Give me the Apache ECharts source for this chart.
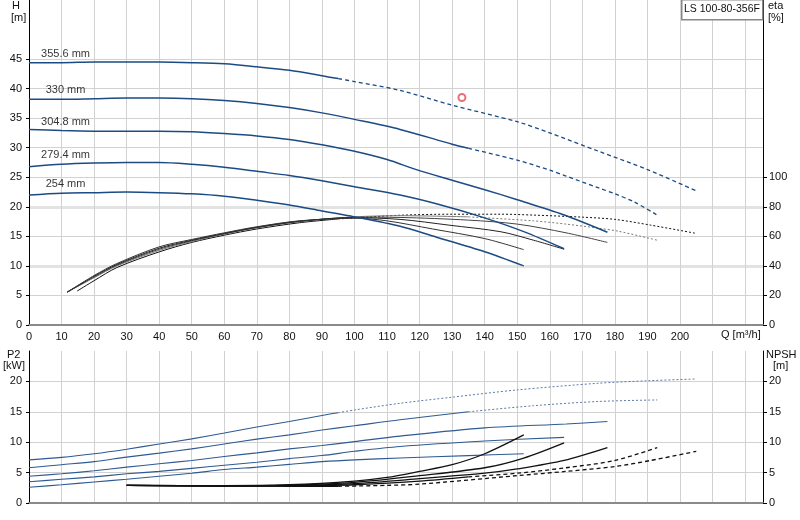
<!DOCTYPE html>
<html>
<head>
<meta charset="utf-8">
<title>LS 100-80-356F</title>
<script src="https://cdn.jsdelivr.net/npm/echarts@6/dist/echarts.min.js"></script>
<style>
  html, body { margin: 0; padding: 0; background: #fff; }
  #main { width: 800px; height: 520px; }
</style>
</head>
<body>
<div id="main"></div>
<script>
// impeller diameters, biggest first
var diameters = ['355.6 mm', '330 mm', '304.8 mm', '279.4 mm', '254 mm'];

// H [m] against Q [m3/h]
var h356 = [[0,44.4],[10,44.4],[20,44.5],[30,44.5],[40,44.5],[50,44.4],[60,44.2],[70,43.7],[80,43.1],[90,42.2],[95,41.7],[100,41.2],[114,39.7],[130,37.2],[150,34.4],[160,32.5],[175,29.4],[190,26.3],[205,22.7]];
var h330 = [[0,38.2],[10,38.2],[20,38.3],[30,38.4],[40,38.4],[50,38.3],[60,38.0],[70,37.5],[80,36.8],[90,35.9],[100,34.8],[114,33.1],[130,30.6],[135,29.9],[150,27.9],[160,26.2],[165,25.2],[175,23.2],[180,22.2],[186,20.8],[193,18.6]];
var h305 = [[0,33.1],[10,32.9],[20,32.8],[30,32.8],[40,32.8],[50,32.7],[60,32.4],[70,32.0],[80,31.4],[90,30.5],[100,29.4],[110,28.0],[119,26.3],[130,24.5],[140,22.9],[150,21.2],[164,18.7],[177.7,15.7]];
var h279 = [[0,26.8],[10,27.2],[20,27.4],[30,27.5],[40,27.5],[50,27.2],[60,26.7],[70,26.0],[80,25.3],[90,24.4],[100,23.4],[114,22.0],[126,20.4],[139,18.3],[152,15.8],[164.4,12.9]];
var h254 = [[0,22.0],[10,22.3],[20,22.4],[30,22.5],[40,22.4],[50,22.2],[60,21.8],[70,21.1],[80,20.3],[90,19.3],[100,18.3],[114,16.7],[125,14.9],[140,12.4],[152,10.0]];

// eta [%]
var e356 = [[14.8,23],[20,30],[27,38.9],[40,49.5],[50,55.9],[60,60.8],[70,65],[83,69.2],[95,71.8],[100,72.5],[114,74.3],[130,75],[145,75],[155,74.4],[170,73],[180,71.5],[191,67.6],[205,62]];
var e330 = [[11.7,22.2],[20,32],[27,40],[40,50.5],[50,56.5],[60,61.5],[70,65.7],[83,70],[100,73.2],[114,74],[135,73.2],[155,70.5],[165,68.3],[175,65.5],[181,63.5],[193,57.4]];
var e305 = [[11.7,22.2],[20,32.5],[27,40.5],[40,51.3],[50,57],[60,61.8],[70,66],[83,70],[100,73],[114,72.8],[135,71],[150,68.3],[165,62.4],[177.7,55.9]];
var e279 = [[11.7,22.2],[20,33],[27,41],[40,52],[50,57.4],[60,62],[70,66.2],[83,70.3],[100,72.6],[114,71.5],[129,67.6],[145,63.1],[155,57.4],[164.4,51.3]];
var e254 = [[11.7,22.2],[20,33.5],[27,41.6],[40,52.9],[50,57.9],[60,62.4],[70,66.5],[83,70.5],[100,72.3],[110,70.5],[124,65],[140,58.5],[152,51]];

// P2 [kW]
var p356 = [[0,7.1],[10,7.5],[20,8.1],[30,8.85],[40,9.7],[50,10.55],[60,11.5],[70,12.5],[80,13.4],[90,14.4],[95,14.85],[100,15.3],[114,16.4],[130,17.4],[150,18.6],[175,19.7],[190,20.1],[205,20.4]];
var p330 = [[0,5.8],[10,6.3],[20,6.8],[30,7.55],[40,8.2],[50,8.9],[60,9.7],[70,10.5],[80,11.2],[90,12.0],[100,12.7],[114,13.7],[135,15.0],[155,16.0],[175,16.7],[193,16.95]];
var p305 = [[0,4.4],[10,4.8],[20,5.3],[30,5.9],[40,6.45],[50,7.0],[60,7.65],[70,8.25],[80,8.9],[90,9.45],[100,10.1],[114,11.0],[140,12.35],[165,13.0],[177.7,13.4]];
var p279 = [[0,3.5],[10,3.9],[20,4.3],[30,4.8],[40,5.2],[50,5.7],[60,6.2],[70,6.7],[80,7.3],[90,7.8],[100,8.5],[114,9.3],[140,10.2],[164.4,10.8]];
var p254 = [[0,2.6],[10,3.0],[20,3.45],[30,3.9],[40,4.4],[50,4.9],[60,5.5],[70,5.9],[80,6.35],[90,6.8],[100,7.1],[114,7.4],[135,7.8],[152,8.1]];

// NPSH [m]
var n356 = [[30,2.9],[60,2.8],[80,2.75],[95,2.75],[110,2.9],[120,3.1],[150,4.5],[165,5.2],[180,6.0],[191,7.0],[205,8.5]];
var n330 = [[30,2.9],[60,2.8],[80,2.85],[100,3.0],[120,3.6],[135,4.3],[150,4.9],[165,5.8],[180,7.0],[193,9.1]];
var n305 = [[30,2.9],[60,2.8],[80,2.9],[100,3.2],[120,4.0],[140,4.9],[150,5.6],[164.4,7.0],[177.7,9.1]];
var n279 = [[30,2.9],[60,2.85],[80,2.95],[100,3.4],[120,4.5],[140,5.8],[152,7.4],[164.4,9.9]];
var n254 = [[30,2.9],[60,2.85],[80,3.0],[100,3.6],[110,4.2],[120,5.2],[130,6.3],[140,8.1],[152,11.2]];

// where solid lines turn dashed (per diameter)
var splitQ = [95, 135, null, null, null];

// duty point
var dutyPoint = [[133, 38.5]];

var hTicks = [0, 5, 10, 15, 20, 25, 30, 35, 40, 45];
var etaTicks = [0, 20, 40, 60, 80, 100];
var lowTicks = [0, 5, 10, 15, 20];
var qLabelMax = 200;

var FONT = 'Liberation Sans, Arial, sans-serif';
var myChart = echarts.init(document.getElementById('main'));

function lineSeries(data, xi, yi, style, z) {
    return {
        type: 'line', xAxisIndex: xi, yAxisIndex: yi, data: data,
        showSymbol: false, symbol: 'none', smooth: 0.3, silent: true,
        lineStyle: style, z: z || 2
    };
}

function withSplit(data, q, xi, yi, solid, dashed, z) {
    if (q == null) return [lineSeries(data, xi, yi, solid, z)];
    return [
        lineSeries(data.filter(function (p) { return p[0] <= q; }), xi, yi, solid, z),
        lineSeries(data.filter(function (p) { return p[0] >= q; }), xi, yi, dashed, z)
    ];
}

var hCurves = [h356, h330, h305, h279, h254];
var eCurves = [e356, e330, e305, e279, e254];
var pCurves = [p356, p330, p305, p279, p254];
var nCurves = [n356, n330, n305, n279, n254];
var etaColors = ['#111', '#7a7a7a', '#444', '#222', '#333'];

var series = [];
hCurves.forEach(function (d, i) {
    series = series.concat(withSplit(d, splitQ[i], 0, 0,
        { color: '#1c4b84', width: 1.5 },
        { color: '#1c4b84', width: 1.3, type: [4, 3] }, 4));
});
eCurves.forEach(function (d, i) {
    series = series.concat(withSplit(d, splitQ[i], 0, 1,
        { color: etaColors[i], width: 1 },
        { color: etaColors[i], width: 1, type: [2, 2] }, 3));
});
pCurves.forEach(function (d, i) {
    series = series.concat(withSplit(d, splitQ[i], 1, 2,
        { color: '#2f5a92', width: 1.1 },
        { color: '#5a7aa6', width: 1, type: [2, 2] }, 3));
});
nCurves.forEach(function (d, i) {
    series = series.concat(withSplit(d, splitQ[i], 1, 3,
        { color: '#111', width: 1.3 },
        { color: '#111', width: 1.3, type: [4, 3] }, 4));
});

// diameter labels, anchored at the Q=10 point of each H curve
series.push({
    type: 'scatter', xAxisIndex: 0, yAxisIndex: 0, silent: true,
    symbol: 'circle', symbolSize: 1, itemStyle: { color: 'transparent' },
    data: hCurves.map(function (d, i) { return { value: d[1], name: diameters[i] }; }),
    label: {
        show: true, position: 'top', distance: 3, offset: [4, 0],
        formatter: '{b}', color: '#000', fontSize: 11, fontFamily: FONT
    },
    z: 5
});

series.push({
    type: 'scatter', xAxisIndex: 0, yAxisIndex: 0, silent: true,
    symbol: 'emptyCircle', symbolSize: 7,
    itemStyle: { color: '#e34b55', borderColor: '#e34b55', borderWidth: 1 },
    data: dutyPoint, z: 6
});

var gridLine = { show: true, lineStyle: { color: '#d2d2d2', width: 1 } };
var lbl = { color: '#111', fontSize: 11, fontFamily: FONT };
var clear = 'rgba(0,0,0,0)';

var option = {
    animation: false,
    grid: [
        { left: 29, right: 37, top: 0, height: 325 },
        { left: 29, right: 37, top: 351, height: 152 }
    ],
    xAxis: [{
        type: 'value', gridIndex: 0, min: 0, max: 225.5, interval: 10,
        axisLine: { show: true, onZero: false, lineStyle: { color: '#8a8a8a', width: 2 } },
        axisTick: { show: false },
        axisLabel: Object.assign({ margin: 6, showMaxLabel: false,
            formatter: function (v) { return v <= qLabelMax ? String(v) : ''; } }, lbl),
        splitLine: gridLine
    }, {
        type: 'value', gridIndex: 1, min: 0, max: 225.5, interval: 10,
        axisLine: { show: true, onZero: false, lineStyle: { color: '#8a8a8a', width: 2 } },
        axisTick: { show: false },
        axisLabel: { show: false },
        splitLine: gridLine
    }],
    yAxis: [{
        type: 'value', gridIndex: 0, min: 0, max: 55, interval: 5, position: 'left',
        axisLine: { show: true, onZero: false, lineStyle: { color: '#000', width: 1 } },
        axisTick: { show: true, length: 3, customValues: hTicks, lineStyle: { color: '#000' } },
        axisLabel: Object.assign({ margin: 7, customValues: hTicks,
            formatter: function (v) { return v <= 45 ? String(v) : ''; } }, lbl),
        splitLine: gridLine
    }, {
        type: 'value', gridIndex: 0, min: 0, max: 220, interval: 20, position: 'right',
        axisLine: { show: true, onZero: false, lineStyle: { color: '#000', width: 1 } },
        axisTick: { show: true, length: 4, customValues: etaTicks, lineStyle: { color: '#000' } },
        axisLabel: Object.assign({ margin: 6, customValues: etaTicks,
            formatter: function (v) { return v <= 100 ? String(v) : ''; } }, lbl),
        // the eta grid shows as wider pale bands at 40 and 80 %
        splitLine: { show: true, lineStyle: { width: 3,
            color: [clear, clear, '#e3e3e3', clear, '#e3e3e3', clear, clear, clear, clear, clear, clear, clear] } }
    }, {
        type: 'value', gridIndex: 1, min: 0, max: 25, interval: 5, position: 'left',
        axisLine: { show: true, onZero: false, lineStyle: { color: '#000', width: 1 } },
        axisTick: { show: true, length: 3, customValues: lowTicks, lineStyle: { color: '#000' } },
        axisLabel: Object.assign({ margin: 7, customValues: lowTicks,
            formatter: function (v) { return v <= 20 ? String(v) : ''; } }, lbl),
        splitLine: { show: true, lineStyle: { color: ['#d2d2d2', '#d2d2d2', '#d2d2d2', '#d2d2d2', '#d2d2d2', '#8a8a8a'], width: 1 } }
    }, {
        type: 'value', gridIndex: 1, min: 0, max: 25, interval: 5, position: 'right',
        axisLine: { show: true, onZero: false, lineStyle: { color: '#000', width: 1 } },
        axisTick: { show: true, length: 4, customValues: lowTicks, lineStyle: { color: '#000' } },
        axisLabel: Object.assign({ margin: 6, customValues: lowTicks,
            formatter: function (v) { return v <= 20 ? String(v) : ''; } }, lbl),
        splitLine: { show: false }
    }],
    graphic: [
        { type: 'text', left: 12, top: 0, style: { text: 'H', font: '11px ' + FONT, fill: '#111' } },
        { type: 'text', left: 11, top: 12, style: { text: '[m]', font: '11px ' + FONT, fill: '#111' } },
        { type: 'text', left: 768, top: 0, style: { text: 'eta', font: '11px ' + FONT, fill: '#111' } },
        { type: 'text', left: 768, top: 12, style: { text: '[%]', font: '11px ' + FONT, fill: '#111' } },
        { type: 'text', left: 7, top: 349, style: { text: 'P2', font: '11px ' + FONT, fill: '#111' } },
        { type: 'text', left: 3, top: 360, style: { text: '[kW]', font: '11px ' + FONT, fill: '#111' } },
        { type: 'text', left: 766, top: 349, style: { text: 'NPSH', font: '11px ' + FONT, fill: '#111' } },
        { type: 'text', left: 773, top: 360, style: { text: '[m]', font: '11px ' + FONT, fill: '#111' } },
        { type: 'text', left: 721, top: 329, style: { text: 'Q [m³/h]', font: '11px ' + FONT, fill: '#111' } },
        { type: 'rect', left: 681, top: -1, z: 100,
          shape: { width: 81, height: 20 },
          style: { fill: '#fff', stroke: '#888', lineWidth: 1.5 } },
        { type: 'text', left: 684, top: 4, z: 101,
          style: { text: 'LS 100-80-356F', font: '10.5px ' + FONT, fill: '#111' } }
    ],
    series: series
};

myChart.setOption(option);
</script>
</body>
</html>
